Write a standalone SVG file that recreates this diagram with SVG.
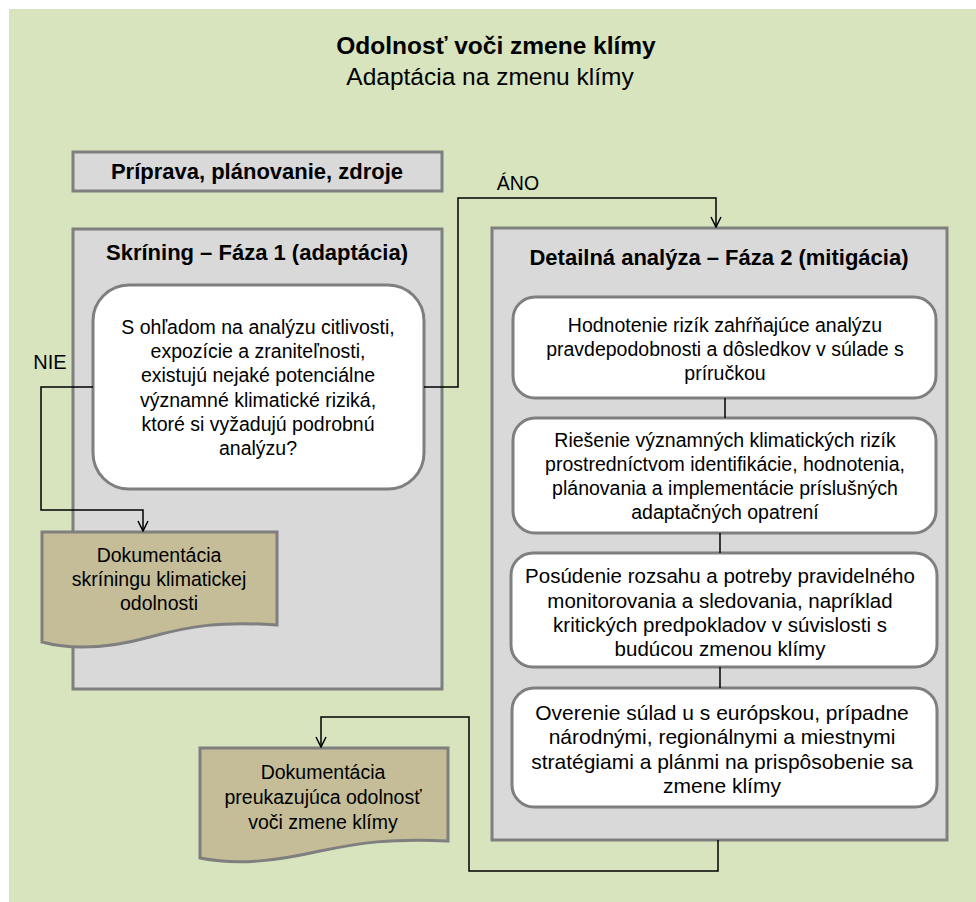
<svg xmlns="http://www.w3.org/2000/svg" width="976" height="902" viewBox="0 0 976 902">
<defs>
<style>
text{font-family:"Liberation Sans",Arial,sans-serif;fill:#000;text-anchor:middle}
.t{font-size:19.5px}
.tc{font-size:20.5px}
.td{font-size:21px}
.b{font-size:22px;font-weight:bold}
.h{font-size:24.5px}
.panel{fill:#d9d9d9;stroke:#7f7f7f;stroke-width:3}
.card{fill:#fff;stroke:#7f7f7f;stroke-width:3}
.doc{fill:#c4bd97;stroke:#7f7f7f;stroke-width:3}
.c{fill:none;stroke:#000;stroke-width:1.5}
</style>
<marker id="arr" viewBox="0 0 12 12" refX="11" refY="6" markerWidth="12" markerHeight="12" markerUnits="userSpaceOnUse" orient="auto">
<path d="M1,1 L11,6 L1,11" fill="none" stroke="#000" stroke-width="1.5"/>
</marker>
</defs>
<rect x="9" y="9" width="967" height="893" fill="#d7e4bd"/>
<g id="title">
<text class="h" x="496" y="54" font-weight="bold">Odolnosť voči zmene klímy</text>
<text class="h" x="490" y="85">Adaptácia na zmenu klímy</text>
</g>
<g id="priprava">
<rect class="panel" x="73" y="152" width="369" height="39"/>
<text class="b" x="257" y="179">Príprava, plánovanie, zdroje</text>
</g>
<g id="faza1">
<rect class="panel" x="73" y="229" width="369" height="460"/>
<text class="b" x="257" y="260">Skríning – Fáza 1 (adaptácia)</text>
</g>
<g id="faza2">
<rect class="panel" x="492" y="228" width="455" height="612"/>
<text class="b" x="719" y="265">Detailná analýza – Fáza 2 (mitigácia)</text>
</g>
<g id="otazka">
<rect class="card" x="93" y="285" width="331" height="204" rx="36"/>
<text class="t" x="258" y="334">S ohľadom na analýzu citlivosti,</text>
<text class="t" x="258" y="358">expozície a zraniteľnosti,</text>
<text class="t" x="258" y="382">existujú nejaké potenciálne</text>
<text class="t" x="258" y="407">významné klimatické riziká,</text>
<text class="t" x="258" y="431">ktoré si vyžadujú podrobnú</text>
<text class="t" x="258" y="455">analýzu?</text>
</g>
<g id="dok1">
<path class="doc" d="M42,532 H277 V625 C220,621 190,626 150,637 C110,648 75,651 42,642 Z"/>
<text class="t" x="159" y="562">Dokumentácia</text>
<text class="t" x="159" y="586">skríningu klimatickej</text>
<text class="t" x="159" y="610">odolnosti</text>
</g>
<g id="krokA">
<rect class="card" x="513" y="297" width="423" height="101" rx="22"/>
<text class="t" x="725" y="332">Hodnotenie rizík zahŕňajúce analýzu</text>
<text class="t" x="725" y="356">pravdepodobnosti a dôsledkov v súlade s</text>
<text class="t" x="725" y="380">príručkou</text>
</g>
<g id="krokB">
<rect class="card" x="513" y="418" width="423" height="115" rx="22"/>
<text class="t" x="725" y="447">Riešenie významných klimatických rizík</text>
<text class="t" x="725" y="471">prostredníctvom identifikácie, hodnotenia,</text>
<text class="t" x="725" y="495">plánovania a implementácie príslušných</text>
<text class="t" x="725" y="519">adaptačných opatrení</text>
</g>
<g id="krokC">
<rect class="card" x="511" y="553" width="426" height="114" rx="22"/>
<text class="tc" x="720" y="583">Posúdenie rozsahu a potreby pravidelného</text>
<text class="tc" x="720" y="608">monitorovania a sledovania, napríklad</text>
<text class="tc" x="720" y="632">kritických predpokladov v súvislosti s</text>
<text class="tc" x="720" y="656">budúcou zmenou klímy</text>
</g>
<g id="krokD">
<rect class="card" x="512" y="688" width="425" height="119" rx="22"/>
<text class="td" x="722" y="720">Overenie súlad u s európskou, prípadne</text>
<text class="td" x="722" y="744">národnými, regionálnymi a miestnymi</text>
<text class="td" x="722" y="769">stratégiami a plánmi na prispôsobenie sa</text>
<text class="td" x="722" y="793">zmene klímy</text>
</g>
<g id="dok2">
<path class="doc" d="M200,748 H448 V841 C390,838 360,843 320,851 C280,860 240,866 200,858 Z"/>
<text class="t" x="323" y="779">Dokumentácia</text>
<text class="t" x="323" y="804">preukazujúca odolnosť</text>
<text class="t" x="323" y="829">voči zmene klímy</text>
</g>
<g id="connectors">
<polyline class="c" points="93,387 41,387 41,510 143,510 143,531" marker-end="url(#arr)"/>
<polyline class="c" points="424,387 458,387 458,198 716,198 716,227" marker-end="url(#arr)"/>
<line class="c" x1="725" y1="398" x2="725" y2="418"/>
<line class="c" x1="720" y1="533" x2="720" y2="553"/>
<line class="c" x1="720" y1="667" x2="720" y2="688"/>
<polyline class="c" points="718,840 718,871 469,871 469,717 321,717 321,747" marker-end="url(#arr)"/>
<text class="t" x="50" y="369" style="font-size:20px">NIE</text>
<text class="t" x="518" y="190">ÁNO</text>
</g>
</svg>
